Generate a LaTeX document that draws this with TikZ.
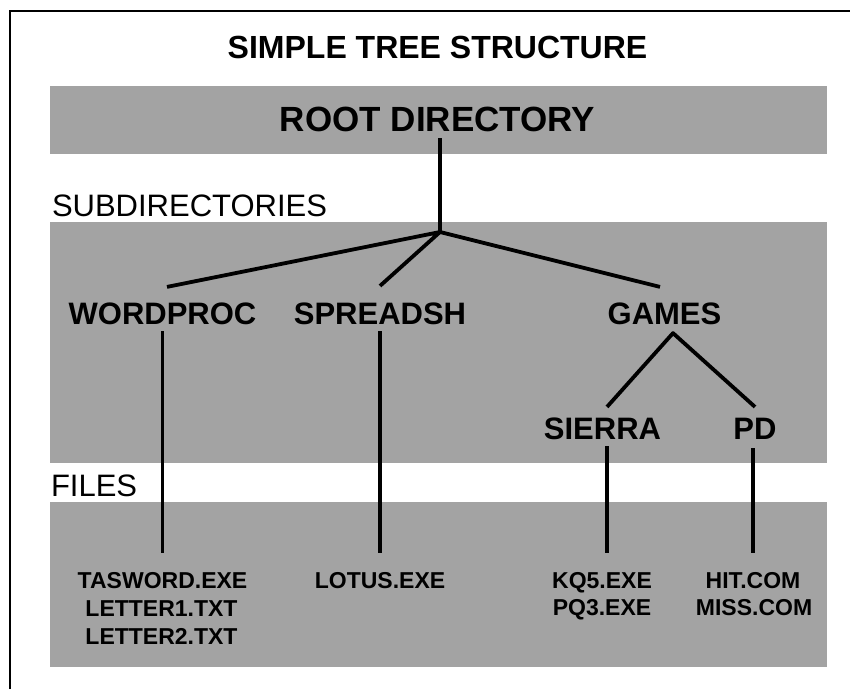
\documentclass[tikz,border=0pt]{standalone}
\usepackage{fontspec}
\setmainfont{Liberation Sans}
\begin{document}
\begin{tikzpicture}[x=1pt,y=-1pt,
  lbl/.style={inner sep=0pt,outer sep=0pt,text depth=0pt},
  dirname/.style={lbl,text height=22.2pt,font=\fontsize{31}{31}\selectfont\bfseries},
  filename/.style={lbl,text height=16.5pt,font=\fontsize{23}{23}\selectfont\bfseries},
  levelname/.style={lbl,text height=22.2pt,anchor=west,font=\fontsize{31}{31}\selectfont},
  band/.style={fill=black!36,draw=none},
  branch/.style={line width=3.8pt,line cap=butt,line join=round},
  frameline/.style={line width=1.5pt}]
\useasboundingbox (0,0) rectangle (850,689);
% frame
\draw[frameline] (10,689) -- (10,11) -- (850,11);
% shaded bands
\fill[band] (50,86) rectangle (827,154);
\fill[band] (50,222) rectangle (827,463);
\fill[band] (50,502) rectangle (827,667);
% labels
\node[lbl,text height=22.9pt,font=\fontsize{32}{32}\selectfont\bfseries] (title) at (437.5,47) {SIMPLE TREE STRUCTURE};
\node[lbl,text height=25pt,font=\fontsize{35}{35}\selectfont\bfseries] (root) at (437.5,118.5) {ROOT DIRECTORY};
\node[levelname] (subl) at (52,205) {SUBDIRECTORIES};
\node[levelname] (filesl) at (51,485) {FILES};
\node[dirname] (wp) at (162.5,313) {WORDPROC};
\node[dirname] (ss) at (380,313) {SPREADSH};
\node[dirname] (games) at (664.5,313) {GAMES};
\node[dirname] (sierra) at (602.5,428) {SIERRA};
\node[dirname] (pd) at (755,428) {PD};
\node[filename] (f1a) at (162.5,580) {TASWORD.EXE};
\node[filename] (f1b) at (161.5,608) {LETTER1.TXT};
\node[filename] (f1c) at (161.5,636) {LETTER2.TXT};
\node[filename] (f2a) at (380,580) {LOTUS.EXE};
\node[filename] (f3a) at (602,580) {KQ5.EXE};
\node[filename] (f3b) at (602,607) {PQ3.EXE};
\node[filename] (f4a) at (753,580) {HIT.COM};
\node[filename] (f4b) at (754,607) {MISS.COM};
% junctions
\coordinate (j) at (440,232);
\coordinate (ga) at ([shift={(8.5pt,-9pt)}]games.south);
% connectors
\draw[branch] ([shift={(2.5pt,-7pt)}]root.south) -- (j);
\draw[branch] ([shift={(4.5pt,15pt)}]wp.north) -- (j) -- ([yshift=16pt]ss.north);
\draw[branch] (j) -- ([shift={(-4.5pt,15pt)}]games.north);
\draw[branch] ([shift={(4.5pt,10pt)}]sierra.north) -- (ga) -- ([yshift=10pt]pd.north);
\draw[branch] ([yshift=-7pt]wp.south) -- ([yshift=19pt]f1a.north);
\draw[branch] ([yshift=-7pt]ss.south) -- ([yshift=19pt]f2a.north);
\draw[branch] ([shift={(4.5pt,-7pt)}]sierra.south) -- ([shift={(5pt,19pt)}]f3a.north);
\draw[branch] ([shift={(-2pt,-9pt)}]pd.south) -- ([yshift=19pt]f4a.north);
\end{tikzpicture}
\end{document}
